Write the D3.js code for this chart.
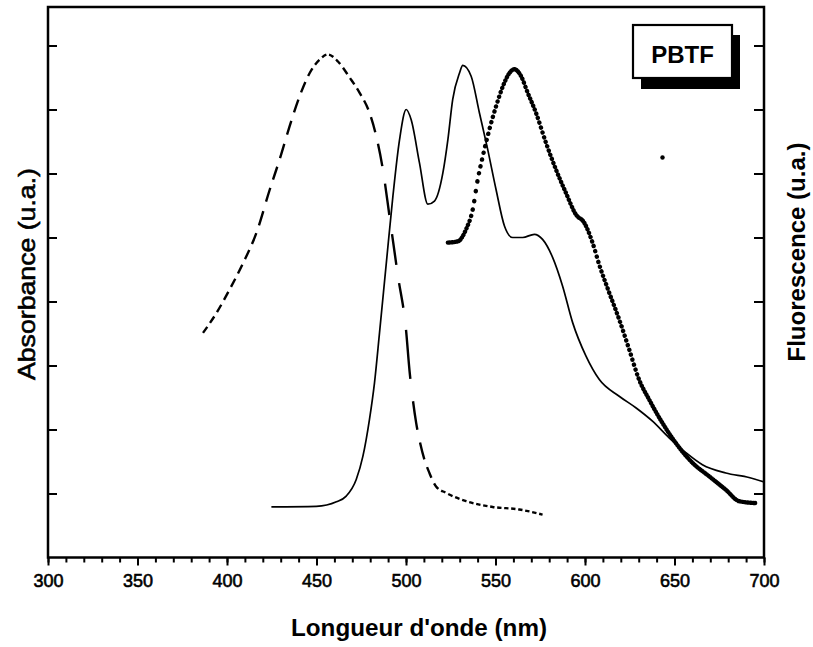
<!DOCTYPE html>
<html lang="fr">
<head>
<meta charset="UTF-8"/>
<title>PBTF</title>
<script src="https://d3js.org/d3.v7.min.js"></script>
<style>
    body { margin: 0; background: #fff; }
    text { font-family: "Liberation Sans", Arial, sans-serif; fill: #000; }
    .axis path { display: none; }
    .axis line { stroke: #000; stroke-width: 2px; }
    .semi { stroke: #000; stroke-width: 0.6px; }
</style>
</head>
<body>
<div id="chart"></div>
<script>
// wavelength ticks (nm)
var xTicks = [300, 350, 400, 450, 500, 550, 600, 650, 700];
var yTicks = [1, 2, 3, 4, 5, 6, 7, 8];

// absorbance, dashed curve
var absDashNm  = [386.6, 394.1, 401.5, 409.0, 416.4, 423.9, 429.4, 435.0, 440.6, 446.2, 451.8, 456.4, 462.0, 468.5, 474.1, 479.6, 483.4, 487.1, 490.8, 495.5, 500.0, 502.0, 503.8, 505.7, 507.9, 510.3, 513.1, 516.8, 522.4, 533.6, 548.4, 563.3, 568.9, 576.3];
var absDashVal = [3.51, 3.82, 4.19, 4.60, 5.07, 5.75, 6.22, 6.74, 7.21, 7.57, 7.78, 7.86, 7.75, 7.50, 7.26, 6.95, 6.58, 6.06, 5.33, 4.40, 3.56, 2.91, 2.47, 2.10, 1.79, 1.53, 1.32, 1.11, 1.01, 0.88, 0.79, 0.75, 0.72, 0.67];

// absorbance, solid curve
var absSolidNm  = [424.8, 449.9, 461.1, 466.6, 472.2, 475.9, 479.6, 482.4, 485.2, 489.0, 492.7, 496.4, 500.1, 502.9, 507.5, 512.2, 515.9, 520.6, 523.4, 526.1, 529.9, 531.7, 536.4, 541.0, 545.6, 550.3, 555.0, 559.6, 565.2, 571.7, 576.3, 581.9, 587.5, 593.1, 600.5, 608.0, 619.1, 628.4, 637.7, 647.0, 656.3, 665.6, 678.7, 691.6, 700.0];
var absSolidVal = [0.79, 0.80, 0.87, 0.96, 1.22, 1.58, 2.16, 2.73, 3.51, 4.60, 5.65, 6.53, 7.00, 6.84, 6.17, 5.52, 5.57, 6.01, 6.53, 7.16, 7.57, 7.69, 7.52, 6.95, 6.38, 5.75, 5.18, 5.00, 5.00, 5.05, 4.97, 4.69, 4.24, 3.67, 3.15, 2.78, 2.52, 2.34, 2.13, 1.87, 1.64, 1.45, 1.32, 1.25, 1.18];

// fluorescence, dotted curve
var fluoNm  = [523.4, 529.0, 533.6, 537.3, 540.1, 542.9, 546.6, 550.3, 554.1, 557.8, 560.5, 564.3, 568.0, 572.6, 578.2, 583.8, 589.3, 594.9, 599.6, 604.2, 607.9, 613.5, 619.1, 624.7, 630.2, 635.8, 643.3, 650.7, 660.0, 669.3, 678.6, 686.1, 695.4];
var fluoVal = [4.92, 4.94, 5.13, 5.44, 5.91, 6.27, 6.69, 7.05, 7.36, 7.57, 7.63, 7.52, 7.26, 6.95, 6.48, 6.06, 5.70, 5.36, 5.23, 4.92, 4.58, 4.14, 3.72, 3.25, 2.78, 2.47, 2.10, 1.79, 1.48, 1.27, 1.06, 0.88, 0.85];
var strayDot = [643.3, 6.25];

var W = 813, H = 647;
var mLeft = 48, mRight = 764, mTop = 7, mBottom = 557.5;

var svg = d3.select("#chart").append("svg")
    .attr("width", W)
    .attr("height", H);

var x = d3.scaleLinear().domain([300, 700]).range([mLeft, mRight]);
var y = d3.scaleLinear().domain([0, (mBottom - mTop) / 64]).range([mBottom, mTop]);

// minor ticks every 10 nm
svg.append("g").attr("class", "axis")
    .attr("transform", "translate(0," + mBottom + ")")
    .call(d3.axisBottom(x).tickValues(d3.range(300, 701, 10)).tickSize(5).tickSizeOuter(0).tickFormat(""));

var xAxis = svg.append("g").attr("class", "axis")
    .attr("transform", "translate(0," + mBottom + ")")
    .call(d3.axisBottom(x).tickValues(xTicks).tickSize(8).tickSizeOuter(0));
xAxis.selectAll("text")
    .attr("class", "semi")
    .attr("y", 29.5).attr("dy", 0)
    .style("font-size", "18px");

svg.append("g").attr("class", "axis")
    .attr("transform", "translate(" + mLeft + ",0)")
    .call(d3.axisLeft(y).tickValues(yTicks).tickSize(-9).tickSizeOuter(0).tickFormat(""));
svg.append("g").attr("class", "axis")
    .attr("transform", "translate(" + mRight + ",0)")
    .call(d3.axisRight(y).tickValues(yTicks).tickSize(-10).tickSizeOuter(0).tickFormat(""));

// frame
svg.append("rect")
    .attr("x", mLeft).attr("y", mTop)
    .attr("width", mRight - mLeft).attr("height", mBottom - mTop)
    .attr("fill", "none").attr("stroke", "#000").attr("stroke-width", 2.5);

var line = d3.line()
    .x(function(d) { return x(d[0]); })
    .y(function(d) { return y(d[1]); })
    .curve(d3.curveMonotoneX);

// dash pattern measured along x instead of along the path
function xDash(node, onX, offX) {
    var total = node.getTotalLength();
    var x0 = node.getPointAtLength(0).x;
    var arr = [], state = true, lastL = 0, prevL = 0, prevX = x0;
    var nextB = x0 + onX;
    for (var l = 0.2; ; l += 0.2) {
        var L = Math.min(l, total);
        var px = node.getPointAtLength(L).x;
        while (px >= nextB) {
            var t = (nextB - prevX) / ((px - prevX) || 1);
            var cross = prevL + t * (L - prevL);
            arr.push(Math.max(cross - lastL, 0.01));
            lastL = cross;
            state = !state;
            nextB += state ? onX : offX;
        }
        prevL = L; prevX = px;
        if (L >= total) break;
    }
    arr.push(total - lastL);
    if (arr.length % 2) arr.push(total + 100);
    return arr.join(",");
}

var dashed = svg.append("path")
    .datum(d3.zip(absDashNm, absDashVal))
    .attr("d", line)
    .attr("fill", "none").attr("stroke", "#000").attr("stroke-width", 2.4);
dashed.attr("stroke-dasharray", xDash(dashed.node(), 4.3, 2.7));

svg.append("path")
    .datum(d3.zip(absSolidNm, absSolidVal))
    .attr("d", line)
    .attr("fill", "none").attr("stroke", "#000").attr("stroke-width", 1.7);

var dotted = svg.append("path")
    .datum(d3.zip(fluoNm, fluoVal))
    .attr("d", line)
    .attr("fill", "none").attr("stroke", "#000").attr("stroke-width", 4.4)
    .attr("stroke-linecap", "round");
dotted.attr("stroke-dasharray", xDash(dotted.node(), 0.05, 1.5));

svg.append("circle")
    .attr("cx", x(strayDot[0])).attr("cy", y(strayDot[1]))
    .attr("r", 2.2).attr("fill", "#000");

// label box with shadow
svg.append("rect").attr("x", 641).attr("y", 35).attr("width", 99).attr("height", 54).attr("fill", "#000");
svg.append("rect").attr("x", 633).attr("y", 25).attr("width", 99).attr("height", 53)
    .attr("fill", "#fff").attr("stroke", "#000").attr("stroke-width", 2.2);
svg.append("text").attr("x", 682.5).attr("y", 63)
    .attr("text-anchor", "middle")
    .style("font-size", "24px").style("font-weight", "bold")
    .text("PBTF");

// axis titles
svg.append("text")
    .attr("x", 419).attr("y", 636)
    .attr("text-anchor", "middle")
    .attr("textLength", 256).attr("lengthAdjust", "spacingAndGlyphs")
    .style("font-size", "24px").style("font-weight", "bold")
    .text("Longueur d'onde (nm)");

svg.append("text")
    .attr("class", "semi")
    .attr("transform", "translate(35,274) rotate(-90)")
    .attr("text-anchor", "middle")
    .attr("textLength", 212).attr("lengthAdjust", "spacingAndGlyphs")
    .style("font-size", "24px")
    .text("Absorbance (u.a.)");

svg.append("text")
    .attr("transform", "translate(805,252) rotate(-90)")
    .attr("text-anchor", "middle")
    .attr("textLength", 219).attr("lengthAdjust", "spacingAndGlyphs")
    .style("font-size", "24px").style("font-weight", "bold")
    .text("Fluorescence (u.a.)");
</script>
</body>
</html>
